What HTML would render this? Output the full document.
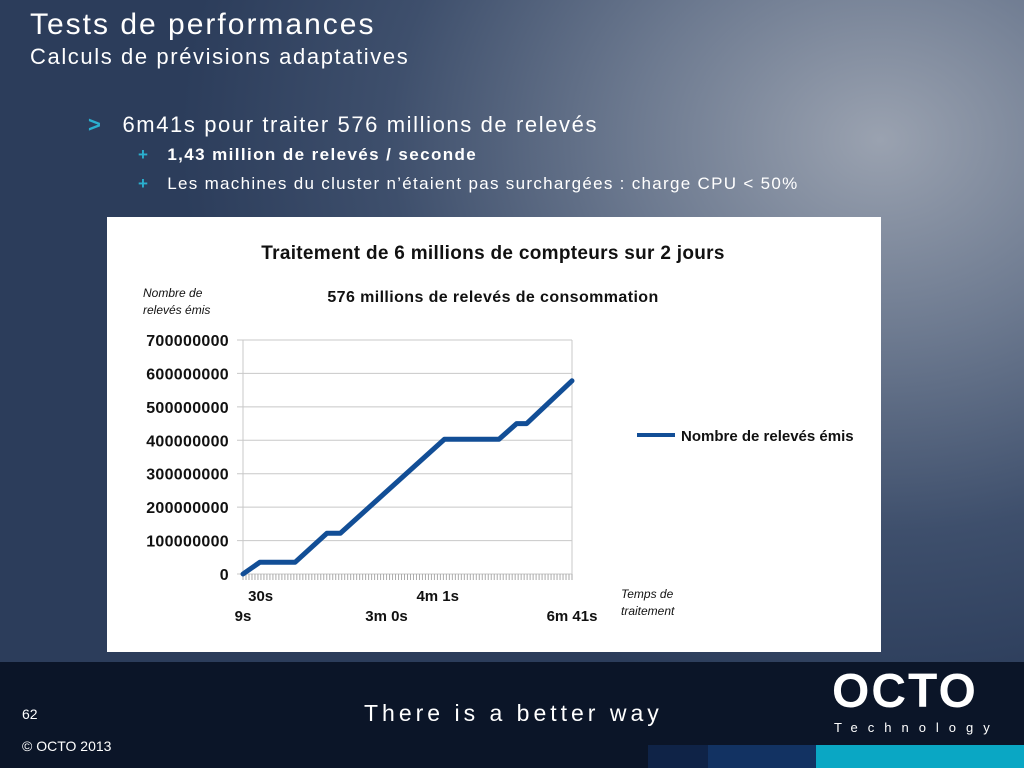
<!DOCTYPE html>
<html><head><meta charset="utf-8"><style>
body{margin:0;width:1024px;height:768px;overflow:hidden;font-family:"Liberation Sans",sans-serif;}
#bg{position:absolute;left:0;top:0;width:1024px;height:768px;background:radial-gradient(ellipse 700px 560px at 880px 140px,#9aa2b0 0%,#6d7a90 35%,#3e4f6c 70%,#2c3d5b 100%);}
.t{position:absolute;white-space:nowrap;}
</style></head><body>
<div id="bg"></div>
<div class="t" style="left:30px;top:8px;font-size:30px;color:#fff;letter-spacing:2px;">Tests de performances</div>
<div class="t" style="left:30px;top:44px;font-size:22px;color:#fff;letter-spacing:1.6px;">Calculs de prévisions adaptatives</div>
<div class="t" style="left:88px;top:112px;font-size:22px;color:#fff;letter-spacing:1.6px;"><span style="color:#2ab0cf;font-weight:bold;margin-right:20px;">&gt;</span>6m41s pour traiter 576 millions de relevés</div>
<div class="t" style="left:138px;top:145px;font-size:17px;color:#fff;font-weight:bold;letter-spacing:1.4px;"><span style="color:#2ab0cf;margin-right:18px;">+</span>1,43 million de relevés / seconde</div>
<div class="t" style="left:138px;top:174px;font-size:17px;color:#fff;letter-spacing:1.3px;"><span style="color:#2ab0cf;font-weight:bold;margin-right:18px;">+</span>Les machines du cluster n’étaient pas surchargées : charge CPU &lt; 50%</div>

<div style="position:absolute;left:0;top:662px;width:1024px;height:106px;background:#0b1528;"></div>
<div style="position:absolute;left:648px;top:745px;width:60px;height:23px;background:#0f2347;"></div>
<div style="position:absolute;left:708px;top:745px;width:108px;height:23px;background:#123262;"></div>
<div style="position:absolute;left:816px;top:745px;width:208px;height:23px;background:#0aa7c4;"></div>
<div class="t" style="left:22px;top:706px;font-size:14px;color:#fff;">62</div>
<div class="t" style="left:22px;top:738px;font-size:14px;color:#fff;">© OCTO 2013</div>
<div class="t" style="left:364px;top:700px;font-size:23px;color:#fff;letter-spacing:4px;">There is a better way</div>
<div class="t" style="left:832px;top:664px;font-size:48px;font-weight:bold;color:#fff;letter-spacing:2px;">OCTO</div>
<div class="t" style="left:834px;top:720px;font-size:13px;color:#fff;letter-spacing:10px;">Technology</div>

<svg id="chart" style="position:absolute;left:107px;top:217px;" width="774" height="435" font-family="Liberation Sans, sans-serif">
<rect width="774" height="435" fill="#fff"/>
<text x="386" y="42" text-anchor="middle" font-size="19" font-weight="bold" letter-spacing="0.3" fill="#111">Traitement de 6 millions de compteurs sur 2 jours</text>
<text x="386" y="85" text-anchor="middle" font-size="16" font-weight="bold" letter-spacing="0.4" fill="#111">576 millions de relevés de consommation</text>
<text font-size="12" font-style="italic" fill="#111"><tspan x="36" y="80">Nombre de</tspan><tspan x="36" y="97">relevés émis</tspan></text>
<text font-size="12" font-style="italic" fill="#111"><tspan x="514" y="381">Temps de</tspan><tspan x="514" y="398">traitement</tspan></text>
<g id="grid"></g><g id="yt"></g><g id="xt"></g>
<line x1="530" y1="218" x2="568" y2="218" stroke="#124e96" stroke-width="4"/>
<text x="574" y="224" font-size="15" font-weight="bold" fill="#111">Nombre de relevés émis</text>
</svg>
<script>
const yTicks=[0,100,200,300,400,500,600,700];
const yLabels=["0","100000000","200000000","300000000","400000000","500000000","600000000","700000000"];
const xTickTimes=[9,30,180,241,401];
const xTickLabels=["9s","30s","3m 0s","4m 1s","6m 41s"];
const times=[9,29,71,109,125,249,314,335,347,401];
const values=[0,35,35,122,122,403,403,450,450,578];
const svg=document.getElementById('chart');const NS='http://www.w3.org/2000/svg';
const X0=136,X1=465,Y0=357,Y1=123,TMIN=9,TMAX=401,VMAX=700;
const xs=t=>X0+(t-TMIN)/(TMAX-TMIN)*(X1-X0);
const ys=v=>Y0-v/VMAX*(Y0-Y1);
function mk(tag,attrs,parent){const e=document.createElementNS(NS,tag);for(const k in attrs)e.setAttribute(k,attrs[k]);(parent||svg).appendChild(e);return e;}
const g=document.getElementById('grid');
yTicks.forEach((v,i)=>{
 const l=mk('line',{x1:X0-6,x2:X1,y1:ys(v),y2:ys(v),stroke:'#c8c8c8','stroke-width':1},g);
 
 
 const t=mk('text',{x:X0-14,y:ys(v)+6,'text-anchor':'end','font-size':16,'font-weight':'bold','letter-spacing':0.3,fill:'#111'},document.getElementById('yt'));
 t.textContent=yLabels[i];
 
 
});
mk('line',{x1:X0,x2:X0,y1:Y1,y2:Y0,stroke:'#c8c8c8'},g);
mk('line',{x1:X1,x2:X1,y1:Y1,y2:Y0,stroke:'#c8c8c8'},g);
for(let i=0;i<=110;i++){const x=X0+i*(X1-X0)/110;mk('line',{x1:x,x2:x,y1:Y0,y2:Y0+6,stroke:'#aaa','stroke-width':1},g);}
xTickTimes.forEach((t,i)=>{
 const row=(i%2===0)?0:1;
 const e=mk('text',{x:xs(t),y:row?384:404,'text-anchor':'middle','font-size':15,'font-weight':'bold',fill:'#111'},document.getElementById('xt'));
 e.textContent=xTickLabels[i];
 
 
});
const p=mk('polyline',{points:times.map((t,i)=>xs(t)+','+ys(values[i])).join(' '),fill:'none',stroke:'#124e96','stroke-width':5,'stroke-linejoin':'round','stroke-linecap':'round'});


</script>
</body></html>
